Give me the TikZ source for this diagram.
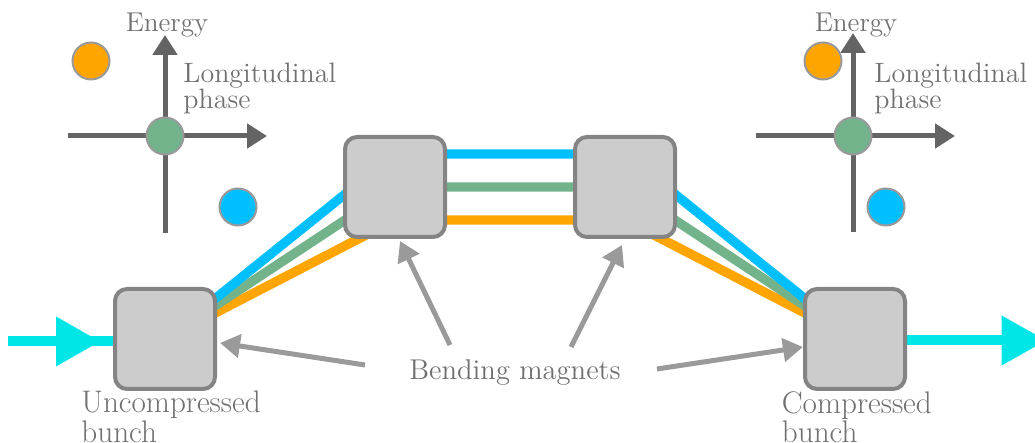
\documentclass[tikz,border=0pt]{standalone}
\usetikzlibrary{arrows.meta,calc}
\definecolor{cOrange}{HTML}{FFA500}
\definecolor{cBlue}{HTML}{00BFFF}
\definecolor{cGreen}{HTML}{73B38C}
\definecolor{cCyan}{HTML}{00E5E5}
\definecolor{cAxis}{HTML}{646464}
\definecolor{cText}{HTML}{707070}
\definecolor{cArrow}{HTML}{9A9A9A}
\definecolor{cBorder}{HTML}{848484}
\definecolor{cBox}{HTML}{CCCCCC}
\definecolor{cDotB}{HTML}{999999}
\begin{document}
\begin{tikzpicture}[x=0.5pt,y=-0.5pt,
  magnet/.style={draw=cBorder, fill=cBox, line width=2pt, rounded corners=6pt, minimum size=50pt, inner sep=0pt},
  dot/.style={circle, draw=cDotB, line width=1pt, minimum size=18.5pt, inner sep=0pt},
  axis/.style={draw=cAxis, line width=2.5pt, -{Triangle[length=10pt,width=12pt]}},
  beam/.style={line width=4.7pt},
  cyanbeam/.style={draw=cCyan, line width=5pt},
  pointer/.style={draw=cArrow, line width=2.5pt, -{Triangle[length=10pt,width=11.5pt]}},
  lbl/.style={text=cText, font=\fontsize{14}{12.8}\selectfont, inner sep=0pt, align=left},
  biglbl/.style={lbl, font=\fontsize{15.6}{12.8}\selectfont},
  axlbl/.style={lbl, font=\fontsize{13.6}{13}\selectfont}]
\useasboundingbox (0,0) rectangle (1035,443);
% magnet positions
\coordinate (Ap) at (165,339);
\coordinate (Bp) at (395,187);
\coordinate (Cp) at (625,187);
\coordinate (Dp) at (855,339);
% beams
\draw[beam, cOrange] (Ap) -- ($(Bp)+(0,33)$) -- ($(Cp)+(0,33)$) -- (Dp);
\draw[beam, cGreen] (Ap) -- (Bp) -- (Cp) -- (Dp);
\draw[beam, cBlue] (Ap) -- ($(Bp)+(0,-33)$) -- ($(Cp)+(0,-33)$) -- (Dp);
% input / output
\coordinate (in) at (8,341.5);
\coordinate (out) at (1060,340.5);
\draw[cyanbeam] (in) -- (in -| Ap);
\draw[cyanbeam] (out -| Dp) -- (out);
\fill[cCyan] (56,316.5) -- (56,366.5) -- (100,341.5) -- cycle;
\fill[cCyan] (1001.7,315.5) -- (1001.7,365.5) -- (1046,340.5) -- cycle;
% magnets
\node[magnet] (A) at (Ap) {};
\node[magnet] (B) at (Bp) {};
\node[magnet] (C) at (Cp) {};
\node[magnet] (D) at (Dp) {};
% labels
\node[biglbl, anchor=north west] (unc) at (81,390.5) {Uncompressed\\bunch};
\node[biglbl, anchor=north west] (cmp) at (781.5,390.8) {Compressed\\bunch};
\node[lbl, font=\fontsize{14.3}{13}\selectfont, anchor=base] (bend) at (515,380) {Bending magnets};
% pointers
\coordinate (t1) at (365,365);
\coordinate (t2) at (450,345);
\coordinate (t3) at (571,347);
\coordinate (t4) at (657,369);
\draw[pointer] (t1) -- ($(A.east)+(3,4)$);
\draw[pointer] (t2) -- ($(B.south)+(5,2)$);
\draw[pointer] (t3) -- ($(C.south)+(-3,6)$);
\draw[pointer] (t4) -- ($(D.west)+(0,8)$);
% left phase space
\coordinate (L0) at (165,136);
\draw[axis] (165,233) -- (165,35);
\draw[axis] (68,136) -- (267,136);
\node[dot, fill=cGreen] (lg) at (L0) {};
\node[dot, fill=cOrange] (lo) at (91,61) {};
\node[dot, fill=cBlue] (lb) at (238,207) {};
\node[axlbl, anchor=base] (le) at (167,32) {Energy};
\node[lbl, anchor=north west] (ll) at (183,62.6) {Longitudinal\\phase};
% right phase space
\coordinate (R0) at (853,136);
\draw[axis] (853,232) -- (853,33);
\draw[axis] (756,136) -- (955,136);
\node[dot, fill=cGreen] (rg) at (R0) {};
\node[dot, fill=cOrange] (ro) at (823,61) {};
\node[dot, fill=cBlue] (rb) at (886,207) {};
\node[axlbl, anchor=base] (re) at (856,32) {Energy};
\node[lbl, anchor=north west] (rl) at (874,62.6) {Longitudinal\\phase};
\end{tikzpicture}
\end{document}
